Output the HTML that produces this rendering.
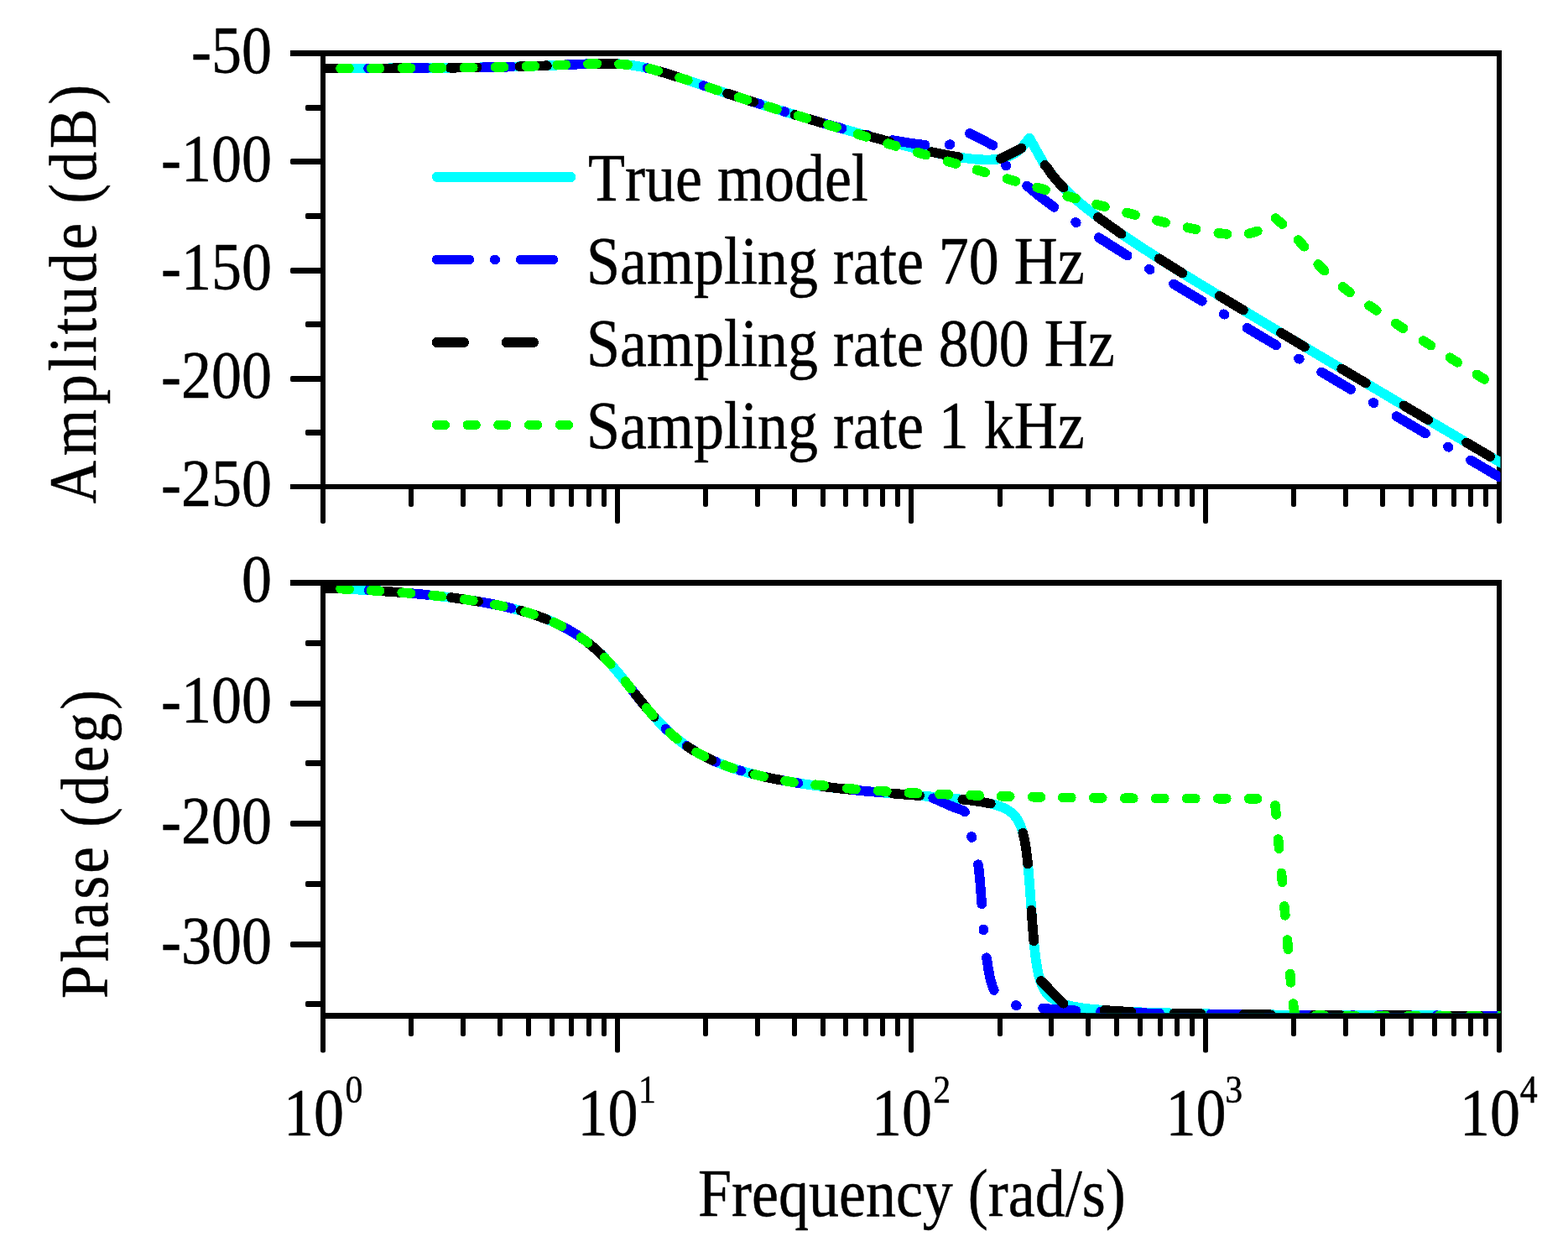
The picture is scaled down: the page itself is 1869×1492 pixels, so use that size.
<!DOCTYPE html>
<html lang="en"><head><meta charset="utf-8"><title>Bode plot</title>
<style>html,body{margin:0;padding:0;background:#fff;overflow:hidden}svg{display:block}text{font-family:"Liberation Serif",serif;fill:#000;stroke:#000;stroke-width:0.5px;stroke-linejoin:round;font-kerning:none;white-space:pre}</style>
</head><body>
<svg width="1869" height="1492" viewBox="0 0 1869 1492" role="img" aria-label="Bode plot: amplitude and phase versus frequency">
<rect width="1869" height="1492" fill="#fff"/>
<defs>
<clipPath id="ct"><rect x="388" y="67" width="1400.5" height="509.5"/></clipPath>
<clipPath id="cb"><rect x="388" y="698" width="1400.5" height="509.3"/></clipPath>
</defs>
<g fill="#000"><rect x="382" y="60" width="6" height="561"/><rect x="1784" y="60" width="6" height="561"/><rect x="382" y="618" width="6" height="6" rx="2.5"/><rect x="1784" y="618" width="6" height="6" rx="2.5"/><rect x="346" y="60" width="1444" height="7"/><rect x="346" y="577" width="1442" height="6"/><rect x="346" y="189" width="40" height="7" rx="2"/><rect x="346" y="319" width="40" height="7" rx="2"/><rect x="346" y="448" width="40" height="7" rx="2"/><rect x="364" y="125" width="22" height="7" rx="2"/><rect x="364" y="254" width="22" height="7" rx="2"/><rect x="364" y="383" width="22" height="7" rx="2"/><rect x="364" y="512" width="22" height="7" rx="2"/><rect x="487" y="580" width="6" height="24" rx="2.5"/><rect x="549" y="580" width="6" height="24" rx="2.5"/><rect x="593" y="580" width="6" height="24" rx="2.5"/><rect x="627" y="580" width="6" height="24" rx="2.5"/><rect x="655" y="580" width="6" height="24" rx="2.5"/><rect x="678" y="580" width="6" height="24" rx="2.5"/><rect x="699" y="580" width="6" height="24" rx="2.5"/><rect x="717" y="580" width="6" height="24" rx="2.5"/><rect x="733" y="580" width="6" height="44" rx="2.5"/><rect x="838" y="580" width="6" height="24" rx="2.5"/><rect x="900" y="580" width="6" height="24" rx="2.5"/><rect x="944" y="580" width="6" height="24" rx="2.5"/><rect x="978" y="580" width="6" height="24" rx="2.5"/><rect x="1005" y="580" width="6" height="24" rx="2.5"/><rect x="1029" y="580" width="6" height="24" rx="2.5"/><rect x="1049" y="580" width="6" height="24" rx="2.5"/><rect x="1067" y="580" width="6" height="24" rx="2.5"/><rect x="1083" y="580" width="6" height="44" rx="2.5"/><rect x="1189" y="580" width="6" height="24" rx="2.5"/><rect x="1250" y="580" width="6" height="24" rx="2.5"/><rect x="1294" y="580" width="6" height="24" rx="2.5"/><rect x="1328" y="580" width="6" height="24" rx="2.5"/><rect x="1356" y="580" width="6" height="24" rx="2.5"/><rect x="1380" y="580" width="6" height="24" rx="2.5"/><rect x="1400" y="580" width="6" height="24" rx="2.5"/><rect x="1418" y="580" width="6" height="24" rx="2.5"/><rect x="1434" y="580" width="6" height="44" rx="2.5"/><rect x="1539" y="580" width="6" height="24" rx="2.5"/><rect x="1601" y="580" width="6" height="24" rx="2.5"/><rect x="1645" y="580" width="6" height="24" rx="2.5"/><rect x="1679" y="580" width="6" height="24" rx="2.5"/><rect x="1707" y="580" width="6" height="24" rx="2.5"/><rect x="1730" y="580" width="6" height="24" rx="2.5"/><rect x="1750" y="580" width="6" height="24" rx="2.5"/><rect x="1768" y="580" width="6" height="24" rx="2.5"/></g>
<g fill="#000"><rect x="382" y="691" width="6" height="560.5"/><rect x="1784" y="691" width="6" height="560.5"/><rect x="382" y="1248.5" width="6" height="6" rx="2.5"/><rect x="1784" y="1248.5" width="6" height="6" rx="2.5"/><rect x="346" y="691" width="1444" height="7"/><rect x="382" y="1207" width="1406" height="7"/><rect x="346" y="835" width="40" height="7" rx="2"/><rect x="346" y="978" width="40" height="7" rx="2"/><rect x="346" y="1122" width="40" height="7" rx="2"/><rect x="364" y="763" width="22" height="7" rx="2"/><rect x="364" y="906" width="22" height="7" rx="2"/><rect x="364" y="1050" width="22" height="7" rx="2"/><rect x="364" y="1193" width="22" height="7" rx="2"/><rect x="487" y="1210.5" width="6" height="24.5" rx="2.5"/><rect x="549" y="1210.5" width="6" height="24.5" rx="2.5"/><rect x="593" y="1210.5" width="6" height="24.5" rx="2.5"/><rect x="627" y="1210.5" width="6" height="24.5" rx="2.5"/><rect x="655" y="1210.5" width="6" height="24.5" rx="2.5"/><rect x="678" y="1210.5" width="6" height="24.5" rx="2.5"/><rect x="699" y="1210.5" width="6" height="24.5" rx="2.5"/><rect x="717" y="1210.5" width="6" height="24.5" rx="2.5"/><rect x="733" y="1210.5" width="6" height="44" rx="2.5"/><rect x="838" y="1210.5" width="6" height="24.5" rx="2.5"/><rect x="900" y="1210.5" width="6" height="24.5" rx="2.5"/><rect x="944" y="1210.5" width="6" height="24.5" rx="2.5"/><rect x="978" y="1210.5" width="6" height="24.5" rx="2.5"/><rect x="1005" y="1210.5" width="6" height="24.5" rx="2.5"/><rect x="1029" y="1210.5" width="6" height="24.5" rx="2.5"/><rect x="1049" y="1210.5" width="6" height="24.5" rx="2.5"/><rect x="1067" y="1210.5" width="6" height="24.5" rx="2.5"/><rect x="1083" y="1210.5" width="6" height="44" rx="2.5"/><rect x="1189" y="1210.5" width="6" height="24.5" rx="2.5"/><rect x="1250" y="1210.5" width="6" height="24.5" rx="2.5"/><rect x="1294" y="1210.5" width="6" height="24.5" rx="2.5"/><rect x="1328" y="1210.5" width="6" height="24.5" rx="2.5"/><rect x="1356" y="1210.5" width="6" height="24.5" rx="2.5"/><rect x="1380" y="1210.5" width="6" height="24.5" rx="2.5"/><rect x="1400" y="1210.5" width="6" height="24.5" rx="2.5"/><rect x="1418" y="1210.5" width="6" height="24.5" rx="2.5"/><rect x="1434" y="1210.5" width="6" height="44" rx="2.5"/><rect x="1539" y="1210.5" width="6" height="24.5" rx="2.5"/><rect x="1601" y="1210.5" width="6" height="24.5" rx="2.5"/><rect x="1645" y="1210.5" width="6" height="24.5" rx="2.5"/><rect x="1679" y="1210.5" width="6" height="24.5" rx="2.5"/><rect x="1707" y="1210.5" width="6" height="24.5" rx="2.5"/><rect x="1730" y="1210.5" width="6" height="24.5" rx="2.5"/><rect x="1750" y="1210.5" width="6" height="24.5" rx="2.5"/><rect x="1768" y="1210.5" width="6" height="24.5" rx="2.5"/></g>
<g clip-path="url(#ct)" fill="none" stroke-width="11.6" stroke-linecap="round" stroke-linejoin="round" shape-rendering="crispEdges">
<path d="M370.0 81.5 L439.0 81.4 L491.5 81.2 L534.9 80.8 L572.4 80.3 L602.4 79.7 L629.4 79.0 L654.9 78.1 L696.9 76.3 L714.9 75.8 L723.9 75.8 L731.4 76.0 L738.9 76.3 L744.9 76.8 L750.9 77.5 L755.4 78.1 L759.9 78.9 L765.9 80.0 L771.9 81.3 L777.9 82.8 L789.9 86.1 L798.8 88.9 L809.3 92.3 L852.8 106.8 L873.8 113.7 L893.3 120.0 L912.8 126.2 L939.8 134.5 L966.8 142.6 L993.8 150.5 L1019.3 157.7 L1037.3 162.7 L1053.8 167.2 L1068.8 171.1 L1083.7 174.9 L1097.2 178.1 L1109.2 180.8 L1121.2 183.4 L1131.7 185.4 L1140.7 186.9 L1149.7 188.3 L1158.7 189.4 L1166.2 190.0 L1173.7 190.4 L1179.7 190.4 L1185.7 190.1 L1190.2 189.6 L1200.0 187.1 L1205.0 185.2 L1211.3 181.6 L1217.5 176.6 L1227.1 164.4 L1245.0 196.4 L1247.2 198.5 L1251.7 205.1 L1256.2 211.0 L1260.7 216.3 L1265.2 221.2 L1271.2 227.3 L1278.7 234.4 L1286.2 240.9 L1293.7 247.1 L1302.7 254.2 L1311.7 261.0 L1322.2 268.6 L1334.2 277.0 L1346.2 285.1 L1358.2 293.1 L1371.6 301.8 L1386.6 311.4 L1403.1 321.7 L1421.1 332.8 L1463.1 358.4 L1511.1 387.2 L1574.1 424.6 L1658.0 474.3 L1790.0 552.1" stroke="#00ffff"/>
<path d="M370.0 81.5 L409.2 81.5 M439.0 81.4 L440.0 81.4 M470.1 81.3 L509.5 81.1 M539.6 80.8 L540.6 80.8 M570.7 80.4 L610.1 79.6 M640.2 78.6 L641.2 78.6 M671.3 77.4 L695.5 76.4 L710.7 75.9 M740.8 76.5 L741.8 76.6 M771.5 81.2 L779.5 83.2 L788.5 85.7 L797.5 88.5 L809.6 92.4 M838.4 102.0 L839.4 102.3 M868.0 111.9 L887.5 118.2 L905.7 124.0 M934.6 132.9 L935.6 133.2 M965.0 142.0 L985.0 147.9 L1003.7 153.1 M1033.0 160.5 L1034.0 160.7 M1063.6 166.9 L1075.0 168.9 L1087.0 170.8 L1094.5 171.8 L1102.7 172.7 M1131.6 172.4 L1132.0 172.4 L1132.5 172.1 M1155.9 159.0 L1183.6 173.1 M1198.7 196.8 L1199.0 197.2 L1199.4 197.6 M1224.1 221.4 L1231.5 227.6 L1239.0 233.7 L1248.0 240.6 L1256.4 246.9 M1282.0 264.8 L1282.8 265.4 M1309.7 283.1 L1325.8 293.4 L1343.7 304.6 M1369.8 320.7 L1370.7 321.3 M1398.9 338.4 L1432.8 358.8 M1458.7 374.3 L1459.5 374.8 M1486.4 390.8 L1521.3 411.5 M1547.9 427.3 L1548.8 427.8 M1575.1 443.3 L1610.1 464.0 M1636.8 479.8 L1637.7 480.3 M1664.3 496.0 L1699.2 516.6 M1725.8 532.3 L1726.7 532.8 M1753.0 548.3 L1787.5 568.7" stroke="#0000ff"/>
<path d="M370.0 81.5 L402.3 81.5 M453.3 81.4 L485.5 81.2 M536.5 80.8 L568.7 80.4 M619.5 79.3 L652.0 78.2 M703.4 76.1 L713.4 75.8 L720.9 75.8 L728.4 75.9 L736.0 76.2 M786.6 85.2 L800.3 89.4 L817.9 95.1 M867.1 111.5 L898.2 121.6 M947.6 136.8 L979.0 146.2 M1028.8 160.4 L1060.4 168.9 M1110.6 181.1 L1127.2 184.5 L1134.7 185.9 L1142.6 187.2 M1192.8 189.0 L1217.5 176.6 M1245.5 196.9 L1247.2 198.5 L1251.7 205.1 L1254.7 209.1 L1257.7 212.8 L1262.2 218.0 L1267.6 223.7 M1308.8 258.9 L1322.2 268.6 L1336.6 278.7 M1381.7 308.2 L1409.4 325.6 M1453.6 352.6 L1482.0 369.7 M1526.9 396.6 L1554.9 413.3 M1599.2 439.5 L1628.0 456.5 M1673.5 483.4 L1702.3 500.4 M1747.9 527.3 L1776.2 544.0" stroke="#000000"/>
<path d="M370.0 81.5 L380.0 81.5 M406.0 81.5 L416.1 81.5 M442.5 81.4 L452.6 81.4 M479.4 81.2 L489.6 81.2 M516.3 81.0 L526.6 80.9 M553.4 80.6 L563.7 80.5 M590.4 80.0 L600.6 79.8 M627.3 79.1 L637.5 78.7 M664.2 77.7 L674.4 77.3 M701.0 76.2 L711.3 75.9 M737.9 76.3 L743.4 76.7 L748.1 77.2 M774.4 81.9 L784.3 84.5 M810.0 92.5 L819.8 95.7 M845.3 104.3 L855.1 107.6 M880.6 115.9 L890.4 119.1 M916.0 127.2 L925.9 130.2 M951.6 138.0 L961.4 141.0 M987.1 148.8 L997.0 151.8 M1022.6 159.8 L1032.4 163.0 M1058.1 171.1 L1067.9 174.0 M1093.7 181.7 L1103.6 184.6 M1129.6 192.3 L1139.4 195.1 M1164.4 202.5 L1174.3 205.4 M1200.5 213.1 L1210.5 216.0 M1236.2 223.4 L1246.1 226.3 M1272.2 233.7 L1282.0 236.5 M1307.0 243.6 L1316.9 246.3 M1343.0 253.4 L1353.0 256.1 M1378.9 262.7 L1389.0 265.2 M1415.4 271.2 L1425.6 273.3 M1452.3 277.8 L1462.5 278.9 M1488.6 278.4 L1495.0 276.8 L1497.0 276.1 L1498.8 275.4 M1520.3 260.1 L1524.0 263.2 L1528.5 267.1 M1547.5 286.1 L1552.0 291.0 L1554.4 293.8 M1571.2 315.0 L1574.0 318.1 L1578.6 322.7 M1600.3 341.8 L1609.0 348.5 M1632.0 364.1 L1640.8 370.0 M1663.6 385.4 L1672.5 391.2 M1696.4 406.1 L1705.4 411.7 M1728.3 426.2 L1737.2 431.8 M1760.4 446.4 L1769.3 451.9" stroke="#00ff00"/>
</g>
<g clip-path="url(#cb)" fill="none" stroke-width="11.6" stroke-linecap="round" stroke-linejoin="round" shape-rendering="crispEdges">
<path d="M370.0 700.1 L398.5 701.2 L424.0 702.5 L449.5 704.0 L472.0 705.6 L493.0 707.3 L513.9 709.4 L531.9 711.4 L549.9 713.7 L566.4 716.2 L581.4 718.8 L596.4 721.8 L609.9 724.9 L621.9 728.0 L633.9 731.7 L639.9 733.7 L645.9 735.8 L651.9 738.1 L656.4 740.0 L663.9 743.3 L671.4 747.0 L678.9 751.2 L686.4 755.7 L693.9 760.8 L699.9 765.2 L707.4 771.4 L713.4 776.7 L717.9 781.0 L723.9 787.2 L728.4 792.0 L734.4 798.8 L738.9 804.2 L744.9 811.5 L761.4 832.3 L768.9 841.6 L774.9 848.7 L780.9 855.5 L788.4 863.5 L794.4 869.4 L800.3 874.9 L807.8 881.1 L815.3 886.8 L822.8 891.9 L830.3 896.4 L834.8 899.0 L839.3 901.3 L848.3 905.7 L857.3 909.5 L866.3 913.0 L876.8 916.5 L885.8 919.3 L894.8 921.7 L903.8 924.0 L914.3 926.4 L924.8 928.5 L935.3 930.5 L947.3 932.5 L959.3 934.4 L972.8 936.3 L987.8 938.2 L1004.3 940.0 L1020.8 941.7 L1037.3 943.3 L1055.3 944.9 L1127.2 950.7 L1142.2 952.1 L1155.7 953.6 L1163.2 954.6 L1170.7 955.8 L1176.7 956.9 L1182.7 958.2 L1187.2 959.4 L1191.7 960.9 L1196.2 962.7 L1199.2 964.1 L1202.2 965.9 L1203.7 966.9 L1206.7 969.4 L1208.2 970.8 L1209.7 972.5 L1211.2 974.4 L1212.7 976.6 L1214.2 979.2 L1215.7 982.3 L1217.2 986.0 L1218.7 990.6 L1220.2 996.4 L1221.7 1003.6 L1223.2 1013.0 L1224.7 1025.2 L1226.2 1040.9 L1227.7 1060.1 L1230.7 1102.5 L1232.2 1120.8 L1233.7 1135.5 L1235.2 1146.8 L1236.7 1155.6 L1238.2 1162.4 L1239.7 1167.8 L1241.2 1172.1 L1242.7 1175.6 L1244.2 1178.6 L1245.7 1181.0 L1247.2 1183.1 L1248.7 1185.0 L1250.2 1186.6 L1251.7 1188.0 L1253.2 1189.2 L1256.2 1191.3 L1257.7 1192.2 L1260.7 1193.7 L1265.2 1195.6 L1268.2 1196.6 L1272.7 1197.9 L1277.2 1199.0 L1281.7 1199.9 L1286.2 1200.6 L1292.2 1201.5 L1298.2 1202.2 L1305.7 1203.0 L1322.2 1204.3 L1340.2 1205.4 L1361.2 1206.3 L1386.6 1207.1 L1416.6 1207.8 L1451.1 1208.5 L1491.6 1209.0 L1536.6 1209.5 L1644.6 1210.1 L1790.0 1210.5" stroke="#00ffff"/>
<path d="M370.0 700.1 L409.4 701.7 M439.5 703.4 L440.5 703.4 M470.5 705.5 L491.5 707.2 L509.8 708.9 M539.8 712.3 L540.8 712.5 M570.6 716.9 L580.0 718.5 L590.5 720.6 L599.5 722.5 L609.4 724.8 M638.5 733.2 L639.4 733.5 M667.6 745.1 L676.0 749.5 L680.5 752.1 L685.0 754.8 L689.5 757.8 L694.0 760.9 L698.5 764.2 L701.7 766.7 M724.6 788.0 L725.4 788.7 M745.9 812.8 L763.0 834.4 L772.0 845.3 M793.4 868.5 L794.1 869.2 M818.3 888.8 L826.0 893.8 L830.5 896.5 L835.0 899.0 L839.5 901.4 L844.0 903.6 L848.5 905.7 L853.6 908.0 M882.2 918.2 L883.2 918.5 M912.5 926.0 L922.0 928.0 L931.0 929.7 L941.5 931.6 L951.3 933.2 M981.2 937.4 L982.2 937.5 M1012.1 940.9 L1031.5 942.8 L1051.4 944.5 M1081.4 947.0 L1082.4 947.1 M1112.2 951.3 L1115.1 952.4 L1117.2 953.3 L1123.4 956.1 L1137.9 962.4 L1144.8 964.7 L1147.0 965.6 L1148.8 966.6 L1150.2 967.7 M1158.0 997.0 L1158.3 998.1 M1166.0 1030.1 L1167.0 1038.0 L1168.1 1049.3 L1170.3 1077.4 M1172.3 1107.4 L1172.3 1108.5 M1176.0 1141.1 L1178.2 1155.4 L1180.0 1164.6 L1181.1 1169.1 L1182.3 1173.3 L1183.7 1177.4 L1184.8 1180.0 M1210.8 1198.0 L1211.8 1198.2 M1243.1 1201.6 L1254.3 1202.7 L1261.0 1203.2 L1282.2 1204.3 M1312.1 1205.6 L1313.1 1205.7 M1343.0 1206.7 L1382.1 1207.7 M1412.0 1208.2 L1413.0 1208.2 M1442.9 1208.7 L1482.1 1209.2 M1512.0 1209.4 L1513.0 1209.4 M1542.9 1209.5 L1582.1 1209.7 M1612.0 1209.9 L1613.0 1209.9 M1642.9 1210.0 L1682.1 1210.1 M1712.0 1210.2 L1713.0 1210.2 M1742.9 1210.3 L1782.1 1210.3" stroke="#0000ff"/>
<path d="M370.0 700.1 L402.6 701.4 M454.0 704.3 L470.5 705.5 L486.5 706.8 M537.8 712.1 L554.4 714.4 L570.1 716.8 M620.7 727.7 L629.4 730.2 L636.9 732.6 L644.4 735.3 L651.9 738.1 M697.7 763.6 L704.4 768.8 L710.4 774.0 L716.4 779.6 L722.9 786.2 M757.8 827.7 L764.4 836.0 L770.4 843.4 L774.9 848.7 L779.7 854.2 M819.6 889.7 L825.8 893.8 L833.3 898.1 L840.8 902.1 L848.6 905.8 M897.6 922.5 L905.3 924.3 L912.8 926.1 L920.3 927.6 L929.5 929.4 M980.3 937.2 L995.3 939.0 L1012.6 940.9 M1063.7 945.6 L1096.1 948.2 M1147.3 952.7 L1157.2 953.8 L1166.2 955.1 L1173.7 956.3 L1180.8 957.7 M1219.3 992.7 L1220.2 996.4 L1221.7 1003.6 L1223.2 1013.0 L1224.7 1025.2 L1225.1 1029.7 M1229.4 1084.6 L1230.7 1102.5 L1232.3 1121.5 M1240.8 1168.9 L1267.5 1195.9 M1316.6 1203.9 L1331.2 1204.9 L1348.7 1205.8 M1399.6 1207.5 L1431.8 1208.1 M1482.7 1208.9 L1514.9 1209.3 M1565.8 1209.7 L1598.0 1209.9 M1648.9 1210.1 L1681.1 1210.2 M1732.0 1210.4 L1764.2 1210.4" stroke="#000000"/>
<path d="M370.0 700.1 L380.0 700.4 M406.0 701.6 L416.0 702.1 M442.4 703.6 L452.5 704.2 M479.2 706.2 L489.4 707.0 M516.1 709.6 L526.5 710.7 M553.6 714.2 L563.8 715.8 M589.8 720.4 L599.8 722.5 M626.1 729.2 L635.9 732.3 M660.5 741.8 L665.0 743.9 L669.6 746.1 M692.4 759.7 L696.4 762.6 L700.6 765.8 M720.7 783.8 L727.8 791.4 M745.3 812.1 L752.1 820.6 M770.7 843.7 L778.0 852.3 M798.5 873.2 L802.8 877.0 L806.9 880.4 M830.1 896.3 L834.2 898.6 L839.4 901.3 M863.8 912.0 L873.7 915.5 M900.0 923.1 L910.1 925.4 M936.0 930.6 L945.9 932.3 M972.1 935.2 L982.4 936.2 M1009.7 939.5 L1020.0 940.5 M1046.7 942.4 L1056.9 943.1 M1083.4 944.7 L1093.6 945.3 M1120.1 946.4 L1130.4 946.8 M1157.1 947.6 L1167.3 948.0 M1193.6 948.9 L1203.8 949.1 M1230.6 949.7 L1240.7 949.9 M1266.7 950.3 L1276.8 950.5 M1303.6 950.8 L1313.8 950.9 M1340.6 951.2 L1350.8 951.3 M1377.6 951.5 L1387.8 951.5 M1414.6 951.6 L1424.8 951.6 M1451.6 951.7 L1461.8 951.7 M1488.6 951.8 L1498.6 951.8 M1520.0 959.9 L1521.1 970.9 M1523.6 1000.0 L1524.6 1011.2 M1527.5 1040.4 L1528.5 1051.4 M1530.9 1079.9 L1531.9 1090.9 M1534.4 1120.1 L1535.4 1131.3 M1537.8 1160.4 L1538.7 1170.9 M1541.4 1196.0 L1542.5 1203.6 L1542.9 1205.9 L1543.1 1206.3 M1568.3 1210.2 L1578.5 1210.3 M1605.1 1210.3 L1615.3 1210.3 M1641.9 1210.3 L1652.1 1210.4 M1678.7 1210.4 L1688.9 1210.4 M1715.4 1210.4 L1725.6 1210.4 M1752.2 1210.4 L1762.4 1210.4 M1789.0 1210.4 L1790.0 1210.4" stroke="#00ff00"/>
</g>
<g fill="none" stroke-linecap="round" shape-rendering="crispEdges">
<line x1="521" y1="211" x2="680.2" y2="211" stroke="#00ffff" stroke-width="12.1"/>
<path d="M520.5 309.4 H680" stroke="#0000ff" stroke-width="11.2" stroke-dasharray="39.1 29.9 1 30"/>
<path d="M520.8 408 H680" stroke="#000000" stroke-width="12.1" stroke-dasharray="32.1 51"/>
<path d="M520.3 506.4 H690" stroke="#00ff00" stroke-width="11" stroke-dasharray="10.2 26.55"/>
</g>
<text transform="translate(324.00 87.00) scale(0.9000 1)" font-size="80.0" text-anchor="end">-50</text>
<text transform="translate(324.00 216.00) scale(0.9000 1)" font-size="80.0" text-anchor="end">-100</text>
<text transform="translate(324.00 345.00) scale(0.9000 1)" font-size="80.0" text-anchor="end">-150</text>
<text transform="translate(324.00 474.00) scale(0.9000 1)" font-size="80.0" text-anchor="end">-200</text>
<text transform="translate(324.00 603.00) scale(0.9000 1)" font-size="80.0" text-anchor="end">-250</text>
<text transform="translate(324.00 716.60) scale(0.9000 1)" font-size="80.0" text-anchor="end">0</text>
<text transform="translate(324.00 861.20) scale(0.9000 1)" font-size="80.0" text-anchor="end">-100</text>
<text transform="translate(324.00 1004.70) scale(0.9000 1)" font-size="80.0" text-anchor="end">-200</text>
<text transform="translate(324.00 1148.00) scale(0.9000 1)" font-size="80.0" text-anchor="end">-300</text>
<text transform="translate(338.00 1353.00) scale(0.9000 1)" font-size="80.0" text-anchor="start">10</text>
<text transform="translate(688.50 1353.00) scale(0.9000 1)" font-size="80.0" text-anchor="start">10</text>
<text transform="translate(1039.00 1353.00) scale(0.9000 1)" font-size="80.0" text-anchor="start">10</text>
<text transform="translate(1389.50 1353.00) scale(0.9000 1)" font-size="80.0" text-anchor="start">10</text>
<text transform="translate(1740.00 1353.00) scale(0.9000 1)" font-size="80.0" text-anchor="start">10</text>
<text transform="translate(411.50 1313.50) scale(0.9000 1)" font-size="46.5" text-anchor="start">0</text>
<text transform="translate(760.90 1313.50) scale(0.9000 1)" font-size="46.5" text-anchor="start">1</text>
<text transform="translate(1112.20 1313.50) scale(0.9000 1)" font-size="46.5" text-anchor="start">2</text>
<text transform="translate(1460.20 1313.50) scale(0.9000 1)" font-size="46.5" text-anchor="start">3</text>
<text transform="translate(1811.70 1313.50) scale(0.9000 1)" font-size="46.5" text-anchor="start">4</text>
<text transform="translate(832.00 1448.70) scale(0.9000 1)" font-size="80.0" text-anchor="start">Frequency (rad/s)</text>
<text transform="translate(701.00 239.00) scale(0.9000 1)" font-size="80.0" text-anchor="start">True model</text>
<text transform="translate(699.00 338.00) scale(0.9000 1)" font-size="80.0" text-anchor="start">Sampling rate 70 Hz</text>
<text transform="translate(699.00 436.20) scale(0.9000 1)" font-size="80.0" text-anchor="start">Sampling rate 800 Hz</text>
<text transform="translate(699.00 534.20) scale(0.9000 1)" font-size="80.0" text-anchor="start">Sampling rate 1 kHz</text>
<text transform="translate(114.00 600.30) rotate(-90) scale(0.8900 1)" font-size="80.0" x="0.00 64.06 133.08 177.44 202.08 226.74 251.38 295.74 340.10 379.48 401.66 431.21 475.57 534.74" y="0">Amplitude (dB)</text>
<text transform="translate(128.00 1189.90) rotate(-90) scale(0.8900 1)" font-size="80.0" x="0.00 49.33 93.69 133.08 167.60 206.98 229.16 258.71 303.07 342.43 386.79" y="0">Phase (deg)</text>
</svg>
</body></html>
